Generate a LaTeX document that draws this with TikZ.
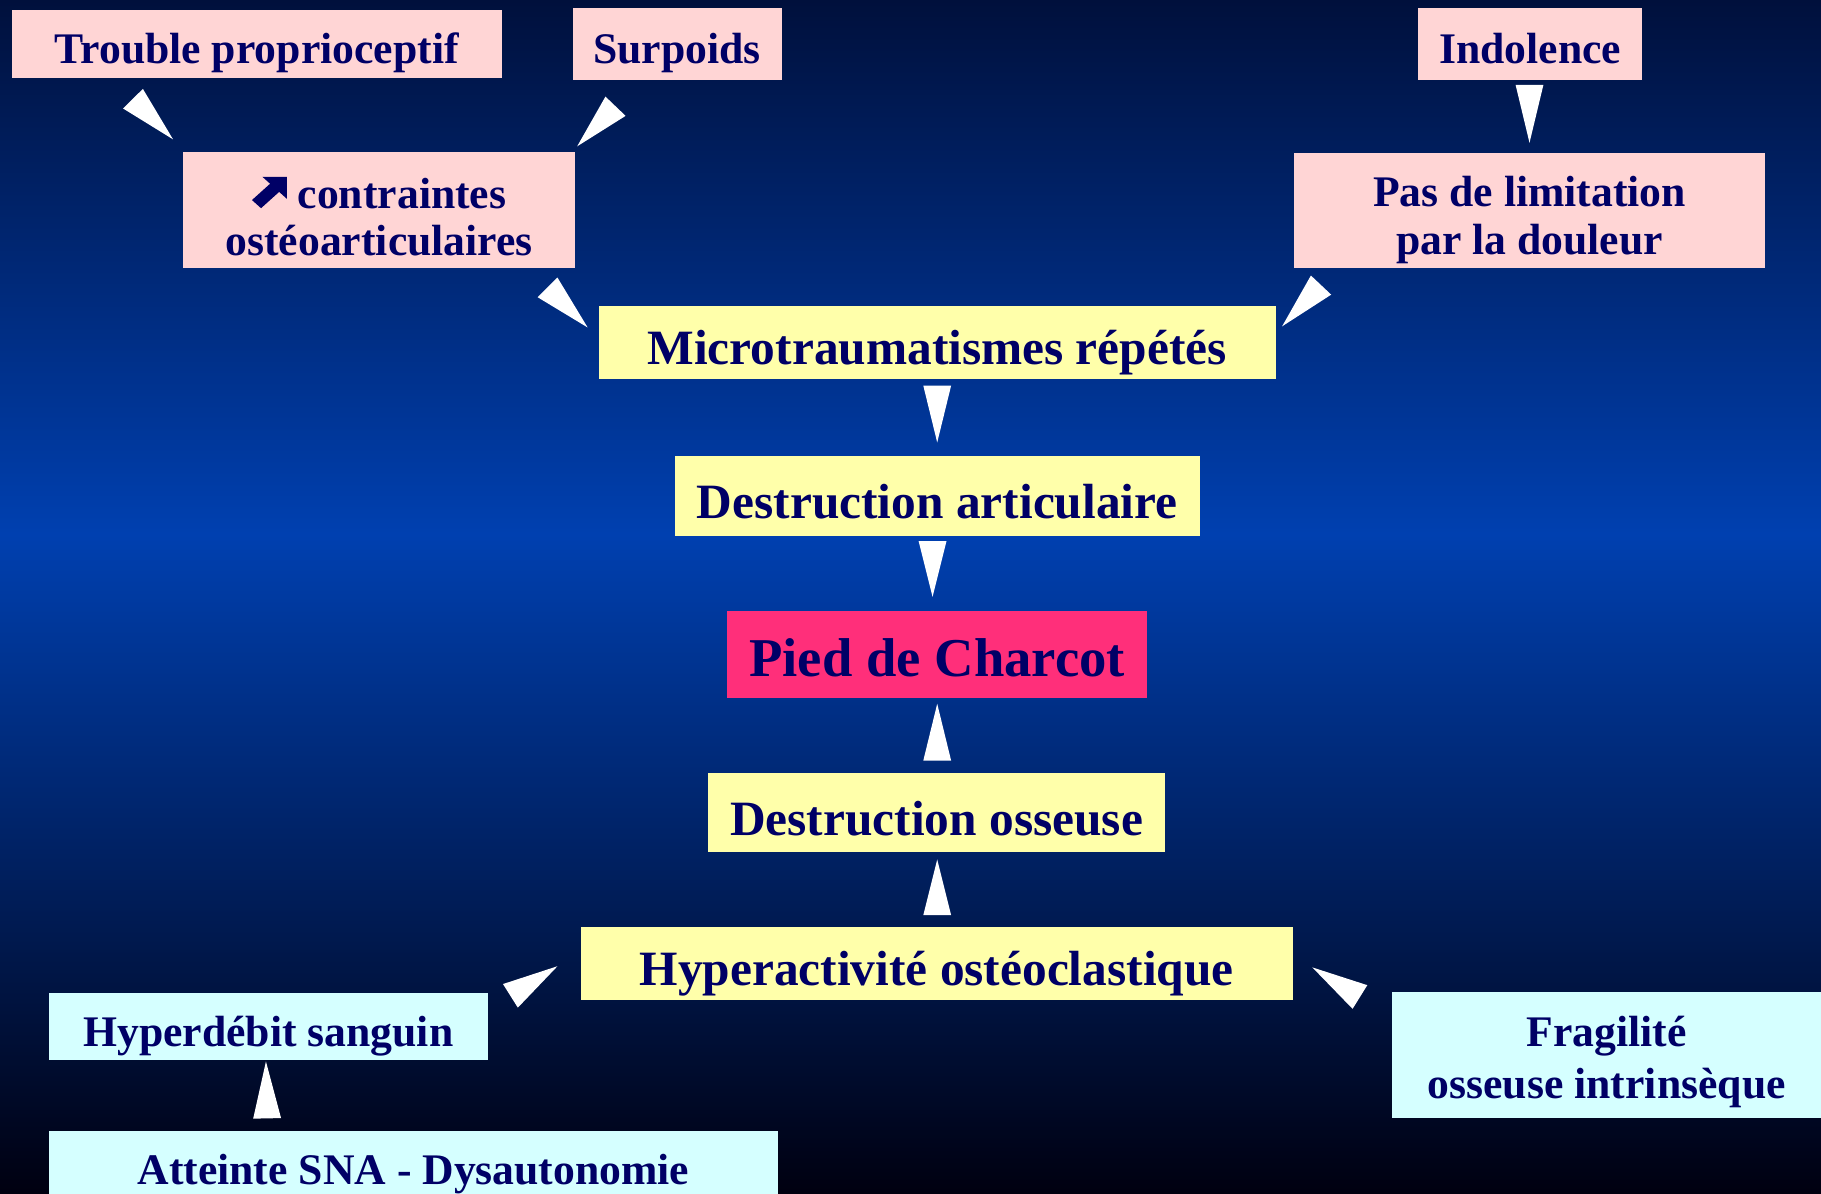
\documentclass[tikz,border=0pt]{standalone}
\usepackage{fontspec}
\setmainfont{Liberation Serif}
\usetikzlibrary{calc}
\definecolor{encre}{HTML}{000066}
\definecolor{rose}{HTML}{FFD5D5}
\definecolor{jaune}{HTML}{FFFFAA}
\definecolor{cyanclair}{HTML}{D5FFFF}
\definecolor{rouge}{HTML}{FF2F7A}
\definecolor{fondhaut}{HTML}{00103C}
\definecolor{fondmilieu}{HTML}{0040B0}
\definecolor{fondbas}{HTML}{000010}
\newcommand\hausse{\tikz[baseline={(0,-0.1)},x=3mm,y=2.7mm]\fill[encre] (1,1)--(0.3,1)--(0.52,0.78)--(0,0.26)--(0.26,0)--(0.78,0.52)--(1,0.3)--cycle;}
\newcommand\fleche[2]{\fill[white] ($(#1)!1.2mm!90:(#2)$) -- (#2) -- ($(#1)!1.2mm!-90:(#2)$) -- cycle;}
\begin{document}
\begin{tikzpicture}[x=0.1mm, y=-0.1mm, line join=round,
		boite/.style={inner sep=0pt, text=encre, align=center, font=\bfseries\fontsize{10.7}{11.5}\selectfont},
		rosebox/.style={boite, fill=rose},
		jaunebox/.style={boite, fill=jaune, font=\bfseries\fontsize{12.1}{13}\selectfont},
		cyanbox/.style={boite, fill=cyanclair},
		ligne/.style={text height=10.7pt, text depth=1.1pt},
		ligneg/.style={text height=12.1pt, text depth=1.2pt}]
	\useasboundingbox (0,0) rectangle (1568,1028);
	\shade[top color=fondhaut, bottom color=fondmilieu] (0,0) rectangle (1568,460);
	\shade[top color=fondmilieu, bottom color=fondbas] (0,460) rectangle (1568,1028);
	
	\node[rosebox, ligne, minimum width=4.22cm, minimum height=0.58cm] (trouble) at (221,38) {Trouble proprioceptif};
	\node[rosebox, ligne, minimum width=1.80cm, minimum height=0.62cm] (surpoids) at (583,38) {Surpoids};
	\node[rosebox, ligne, minimum width=1.93cm, minimum height=0.62cm] (indolence) at (1317.5,38) {Indolence};
	\node[rosebox, minimum width=3.37cm, minimum height=1.00cm] (contraintes) at (326.5,181) {\rule{0pt}{10.6pt}\hausse{} contraintes\\ostéoarticulaires};
	\node[rosebox, font=\bfseries\fontsize{10.7}{11.7}\selectfont, minimum width=4.06cm, minimum height=0.99cm] (douleur) at (1317,181.5) {\rule{0pt}{12.1pt}Pas de limitation\\par la douleur};
	\node[jaunebox, ligneg, minimum width=5.83cm, minimum height=0.635cm] (micro) at (807,295) {Microtraumatismes répétés};
	\node[jaunebox, ligneg, minimum width=4.52cm, minimum height=0.69cm] (articulaire) at (807,427) {Destruction articulaire};
	\node[boite, ligneg, fill=rouge, font=\bfseries\fontsize{13.4}{15}\selectfont, minimum width=3.62cm, minimum height=0.75cm] (charcot) at (807,563.5) {Pied de Charcot};
	\node[jaunebox, ligneg, minimum width=3.93cm, minimum height=0.68cm] (osseuse) at (806.5,700) {Destruction osseuse};
	\node[jaunebox, ligneg, minimum width=6.13cm, minimum height=0.63cm] (hyper) at (806.5,829.5) {Hyperactivité ostéoclastique};
	\node[cyanbox, ligne, minimum width=3.78cm, minimum height=0.58cm] (debit) at (231,884) {Hyperdébit sanguin};
	\node[cyanbox, font=\bfseries\fontsize{10.7}{12.8}\selectfont, minimum width=3.69cm, minimum height=1.09cm] (fragilite) at (1383.5,908.5) {\rule{0pt}{11pt}Fragilité\\osseuse intrinsèque};
	\node[cyanbox, ligne, minimum width=6.28cm, minimum height=0.58cm] (sna) at (356,1003) {Atteinte SNA - Dysautonomie};
	
	\coordinate (trouble-a) at (114.5,85);   \coordinate (trouble-b) at (149,120);
	\coordinate (surpoids-a) at (530,91.5);  \coordinate (surpoids-b) at (497,126);
	\coordinate (indolence-a) at (1317,73);  \coordinate (indolence-b) at (1317,123);
	\coordinate (contraintes-a) at (471.5,247.5); \coordinate (contraintes-b) at (506,282);
	\coordinate (douleur-a) at (1137.5,245.5); \coordinate (douleur-b) at (1104,281);
	\coordinate (micro-a) at (807,332);      \coordinate (micro-b) at (807,381);
	\coordinate (articulaire-a) at (803,466); \coordinate (articulaire-b) at (803,514);
	\coordinate (osseuse-a) at (807,655);    \coordinate (osseuse-b) at (807,606);
	\coordinate (hyper-a) at (807,788);      \coordinate (hyper-b) at (807,740);
	\coordinate (debit-a) at (439.5,857.5);  \coordinate (debit-b) at (480,832);
	\coordinate (fragilite-a) at (1171,858.5); \coordinate (fragilite-b) at (1130,833);
	\coordinate (sna-a) at (230,963);        \coordinate (sna-b) at (229,914);
	\foreach \n in {trouble,surpoids,indolence,contraintes,douleur,micro,articulaire,osseuse,hyper,debit,fragilite,sna}
		\fleche{\n-a}{\n-b};
\end{tikzpicture}
\end{document}
